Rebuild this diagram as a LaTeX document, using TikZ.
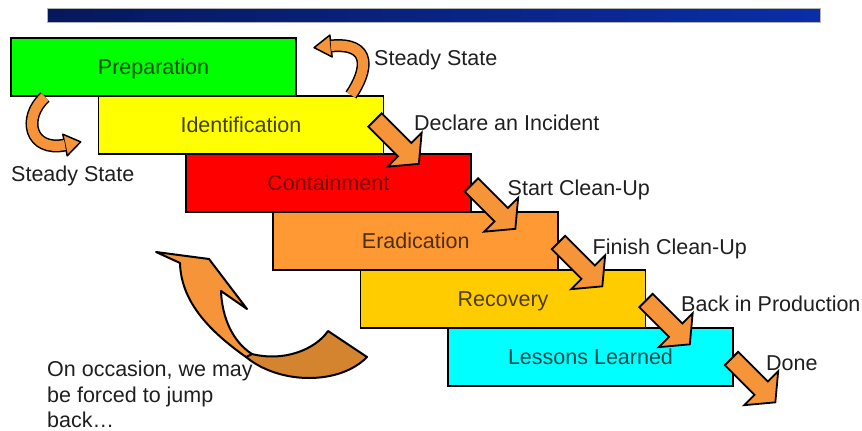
\documentclass[tikz,border=0pt]{standalone}
\usepackage{fontspec}
\setmainfont{Liberation Sans}
\usetikzlibrary{calc}
\definecolor{cprep}{RGB}{0,255,0}
\definecolor{cident}{RGB}{255,255,0}
\definecolor{ccont}{RGB}{255,0,0}
\definecolor{cerad}{RGB}{255,153,51}
\definecolor{crecov}{RGB}{255,204,0}
\definecolor{cless}{RGB}{0,255,255}
\definecolor{arrorange}{RGB}{246,148,58}
\definecolor{arrdark}{RGB}{212,131,47}
\definecolor{barleft}{RGB}{6,24,92}
\definecolor{barright}{RGB}{10,46,168}
\begin{document}
\begin{tikzpicture}[x=1pt,y=-1pt,
  stage/.style={draw=black, line width=1.5pt, minimum width=285pt, minimum height=58pt,
    inner sep=0pt, outer sep=0pt, text height=15.4pt, text depth=0pt,
    font=\fontsize{21.5}{25}\selectfont},
  lbl/.style={anchor=base west, inner sep=0pt, font=\fontsize{21.5}{25.5}\selectfont, text=black!88},
  blockarr/.style={fill=arrorange, draw=black, line width=1.8pt, line join=miter},
  curlyout/.style={line width=13pt, black, line cap=butt},
  curlyin/.style={line width=10pt, arrorange, line cap=butt},
  curlyhead/.style={fill=arrorange, draw=black, line width=1.5pt, line join=round},
  bigarr/.style={draw=black, line width=2pt, line join=round}]
\useasboundingbox (0,0) rectangle (862,431);

% top bar
\node[draw=gray!60, line width=0.8pt, left color=barleft, right color=barright,
  minimum width=773pt, minimum height=14pt, inner sep=0pt, anchor=north west] (bar) at (47,8) {};

% stages
\node[stage, fill=cprep, text=cprep!30!black, anchor=north west] (prep) at (11,38) {Preparation};
\node[stage, fill=cident, text=cident!25!black, anchor=north west] (ident) at (98.4,96) {Identification};
\node[stage, fill=ccont, text=ccont!45!black, anchor=north west] (cont) at (185.8,154) {Containment};
\node[stage, fill=cerad, text=cerad!30!black, anchor=north west] (erad) at (273.2,212) {Eradication};
\node[stage, fill=crecov, text=crecov!30!black, anchor=north west] (recov) at (360.6,270) {Recovery};
\node[stage, fill=cless, text=cless!30!black, anchor=north west] (less) at (448,328) {Lessons Learned};

% step arrows
\foreach \bx/\dx/\dy in {ident/-8.4/24, cont/0.7/31, erad/0.3/30.5, recov/0.4/30.5, less/-1.5/30.5}{
  \draw[blockarr, shift={($(\bx.north east)+(\dx,\dy)$)}, rotate=-45]
    (0,-9.5) -- (42,-9.5) -- (42,-24) -- (62,0) -- (42,24) -- (42,9.5) -- (0,9.5) -- cycle;
}

% labels
\node[lbl] (ssTop) at (374,65) {Steady State};
\node[lbl] (ssLeft) at (11,181.5) {Steady State};
\node[lbl] (lDecl) at (414,130) {Declare an Incident};
\node[lbl] (lStart) at (507.5,195.5) {Start Clean-Up};
\node[lbl] (lFin) at (592.5,254) {Finish Clean-Up};
\node[lbl] (lBack) at (681,311.5) {Back in Production};
\node[lbl] (lDone) at (766,370.5) {Done};
\node[lbl, align=left, anchor=north west] (note) at (47,361)
  {On occasion, we may\\be forced to jump\\back…};

% curly arrow top (Steady State)
\coordinate (ct0) at (351,95);
\coordinate (ct1) at (331,46);
\draw[curlyout] (ct0) .. controls (368,70) and (372,42) .. (ct1);
\draw[curlyhead] (332.1,56.9) -- (314.1,47.6) -- (329.9,35.1) -- cycle;
\draw[curlyin] (ct0) .. controls (368,70) and (372,42) .. (ct1);

% curly arrow left (Steady State)
\coordinate (cl0) at (45,97);
\coordinate (cl1) at (65,145);
\draw[curlyout] (cl0) .. controls (22,118) and (30,152) .. (cl1);
\draw[curlyhead] (67.2,155.8) -- (80.7,141.9) -- (62.8,134.2) -- cycle;
\draw[curlyin] (cl0) .. controls (22,118) and (30,152) .. (cl1);

% big jump-back arrow
\draw[bigarr, fill=arrdark] (252,354) .. controls (283,362) and (315,350) .. (328,331)
  -- (367,357) .. controls (340,385) and (280,385) .. (246,357) -- cycle;
\draw[bigarr, fill=arrorange] (156,252) -- (209,259) -- (247,309) -- (221,291)
  .. controls (222,318) and (233,342) .. (252,354) -- (246,357)
  .. controls (215,335) and (181,305) .. (180,263) -- cycle;
\end{tikzpicture}
\end{document}
